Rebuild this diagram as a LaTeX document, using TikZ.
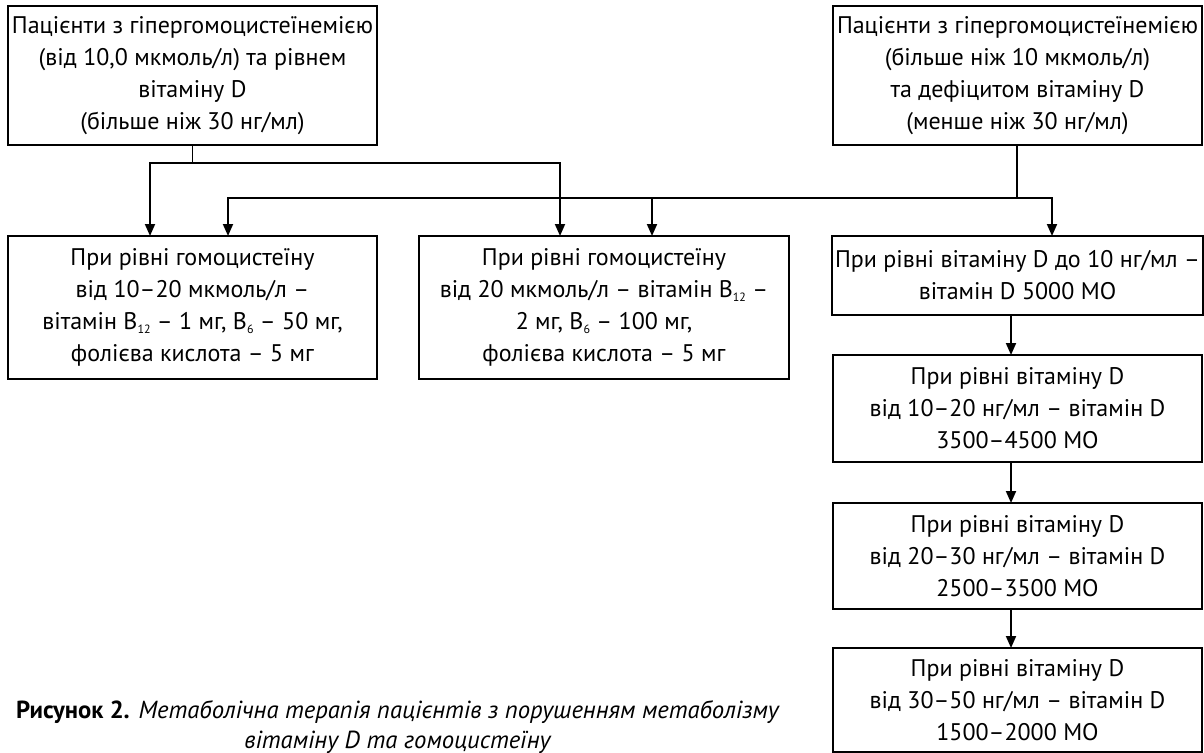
\documentclass[tikz,border=0pt]{standalone}
\usepackage{fontspec}
\setmainfont{PT Sans}
\usetikzlibrary{arrows.meta}

\newcommand{\vsub}[1]{\raisebox{-0.35ex}{\fontsize{9}{9}\selectfont #1}}

\tikzset{every picture/.style={line width=1.4pt}}

\begin{document}
\begin{tikzpicture}[x=0.75pt,y=0.75pt,yscale=-1,xscale=1,
  box/.style={draw, rectangle, align=center, inner sep=2pt, outer sep=0pt, minimum width=277pt, font=\fontsize{18}{24}\selectfont},
  arr/.style={-{Triangle[length=9pt,width=7.5pt]}}]
\path[use as bounding box] (0,0) rectangle (1204,753);

% Top boxes
\node (pA) [box, minimum height=104.25pt] at (192.5,75.5) {Пацієнти з гіпергомоцистеїнемією\\(від 10,0 мкмоль/л) та рівнем\\вітаміну D\\(більше ніж 30 нг/мл)};
\node (pB) [box, minimum height=104.25pt] at (1017.5,75.5) {Пацієнти з гіпергомоцистеїнемією\\(більше ніж 10 мкмоль/л)\\та дефіцитом вітаміну D\\(менше ніж 30 нг/мл)};

% Homocysteine boxes
\node (hA) [box, minimum height=107.25pt] at (192.5,307.5) {При рівні гомоцистеїну\\від 10–20 мкмоль/л –\\вітамін B\vsub{12} – 1 мг, B\vsub{6} – 50 мг,\\фолієва кислота – 5 мг};
\node (hB) [box, minimum height=107.25pt] at (604,307.5) {При рівні гомоцистеїну\\від 20 мкмоль/л – вітамін B\vsub{12} –\\2 мг, B\vsub{6} – 100 мг,\\фолієва кислота – 5 мг};

% Vitamin D boxes
\node (d1) [box, minimum height=59.25pt] at (1017.5,275.5) {При рівні вітаміну D до 10 нг/мл –\\вітамін D 5000 МО};
\node (d2) [box, minimum height=80.25pt] at (1017.5,408.5) {При рівні вітаміну D\\від 10–20 нг/мл – вітамін D\\3500–4500 МО};
\node (d3) [box, minimum height=79.5pt] at (1017.5,556) {При рівні вітаміну D\\від 20–30 нг/мл – вітамін D\\2500–3500 МО};
\node (d4) [box, minimum height=78pt] at (1017.5,700) {При рівні вітаміну D\\від 30–50 нг/мл – вітамін D\\1500–2000 МО};

% Caption
\node (cap) [align=center, font=\fontsize{18.5}{22}\selectfont] at (398,727) {\textbf{Рисунок 2.} \textit{Метаболічна терапія пацієнтів з порушенням метаболізму}\\\textit{вітаміну D та гомоцистеїну}};

% Bus lines
\coordinate (busA) at (150,163);
\coordinate (busA2) at (560,163);
\coordinate (busB) at (228,198);
\coordinate (busB2) at (1052,198);
\coordinate (busB3) at (652,198);
\coordinate (chain) at (1011,0);

\draw (pA.south) -- (pA.south |- busA);
\draw [{Triangle[length=9pt,width=7.5pt]}-{Triangle[length=9pt,width=7.5pt]}] (hA.north -| busA) -- (busA) -- (busA2) -- (hB.north -| busA2);
\draw ([xshift=-0.4pt]pB.south) -- ([xshift=-0.4pt]pB.south |- busB);
\draw [{Triangle[length=9pt,width=7.5pt]}-{Triangle[length=9pt,width=7.5pt]}] (hA.north -| busB) -- (busB) -- (busB2) -- (d1.north -| busB2);
\draw [arr] (busB3) -- (hB.north -| busB3);

% Vitamin D chain
\draw [arr] (d1.south -| chain) -- (d2.north -| chain);
\draw [arr] (d2.south -| chain) -- (d3.north -| chain);
\draw [arr] (d3.south -| chain) -- (d4.north -| chain);

\end{tikzpicture}
\end{document}
